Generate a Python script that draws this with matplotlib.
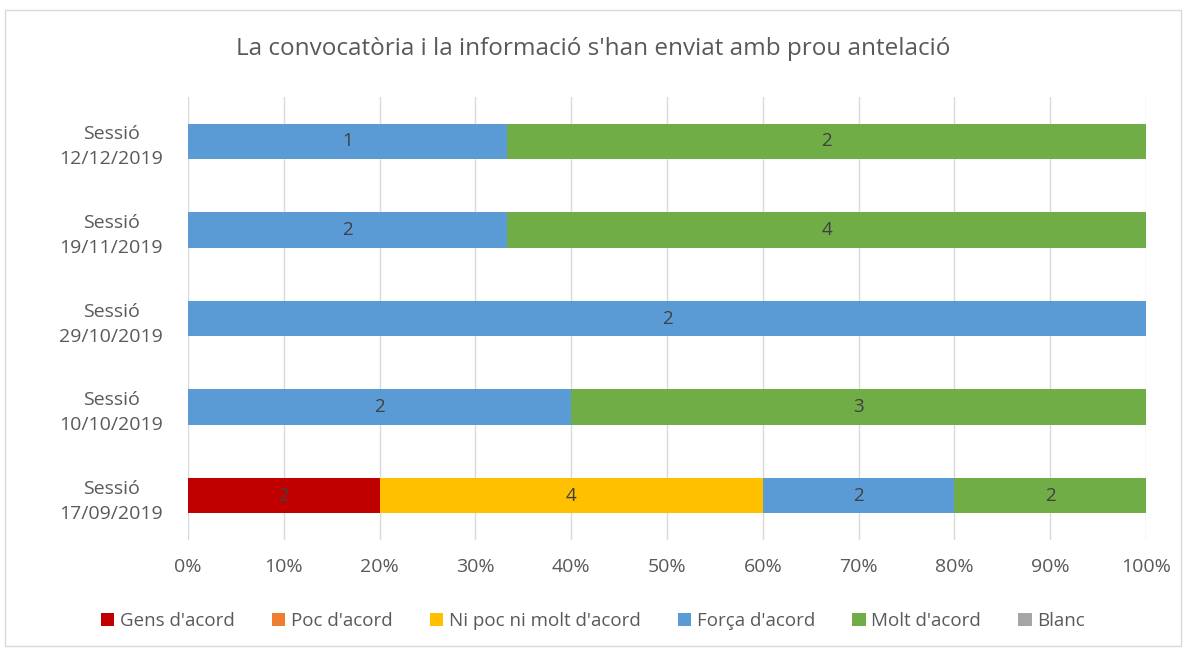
import matplotlib
matplotlib.use('Agg')
import matplotlib.pyplot as plt
from matplotlib.patches import Rectangle
import numpy as np

plt.rcParams['font.family'] = ['Open Sans', 'DejaVu Sans']

# dades
sessions = ['Sessió\n17/09/2019', 'Sessió\n10/10/2019', 'Sessió\n29/10/2019',
            'Sessió\n19/11/2019', 'Sessió\n12/12/2019']
series_names = ["Gens d'acord", "Poc d'acord", "Ni poc ni molt d'acord",
                "Força d'acord", "Molt d'acord", "Blanc"]
gens = [2, 0, 0, 0, 0]
poc = [0, 0, 0, 0, 0]
ni_poc = [4, 0, 0, 0, 0]
forca = [2, 2, 2, 2, 1]
molt = [2, 3, 0, 4, 2]
blanc = [0, 0, 0, 0, 0]
ticks = [0, 10, 20, 30, 40, 50, 60, 70, 80, 90, 100]

colors = ['#C00000', '#ED7D31', '#FFC000', '#5B9BD5', '#70AD47', '#A5A5A5']
text_color = '#595959'

counts = np.array([gens, poc, ni_poc, forca, molt, blanc], dtype=float)
totals = counts.sum(axis=0)
pct = counts / totals * 100

fig = plt.figure(figsize=(11.86, 6.51), dpi=100)
ax = fig.add_axes([0.1585, 0.1705, 0.8078, 0.6805])

# marc del gràfic
fig.patches.append(Rectangle((0.004, 0.008), 0.992, 0.976, transform=fig.transFigure,
                             fill=False, edgecolor='#D9D9D9', linewidth=1))

y = np.arange(len(sessions))
left = np.zeros(len(sessions))
for i, name in enumerate(series_names):
    ax.barh(y, pct[i], left=left, height=0.4, color=colors[i], label=name, zorder=3)
    for j in range(len(sessions)):
        if counts[i][j] > 0:
            ax.text(left[j] + pct[i][j] / 2, y[j], f'{int(counts[i][j])}',
                    ha='center', va='center', fontsize=13.5, color='#404040', zorder=4)
    left += pct[i]

ax.set_xlim(0, 100)
ax.set_ylim(-0.5, 4.5)
ax.set_xticks(ticks)
ax.set_xticklabels([f'{t}%' for t in ticks])
ax.set_yticks(y)
ax.set_yticklabels(sessions, multialignment='center', linespacing=1.5)
ax.tick_params(axis='both', length=0, labelsize=14, colors=text_color)
ax.tick_params(axis='x', pad=13)
ax.tick_params(axis='y', pad=18)
ax.grid(axis='x', color='#D9D9D9', linewidth=1, zorder=0)
for s in ax.spines.values():
    s.set_visible(False)

fig.text(0.5, 0.925, "La convocatòria i la informació s'han enviat amb prou antelació",
         ha='center', va='center', fontsize=17.5, color=text_color)

fig.legend(loc='center', bbox_to_anchor=(0.5, 0.046), ncol=6, frameon=False,
           fontsize=13.5, handlelength=0.7, handleheight=0.7, handletextpad=0.3,
           columnspacing=2.0, labelcolor=text_color)

fig.savefig('out.png', dpi=100)
